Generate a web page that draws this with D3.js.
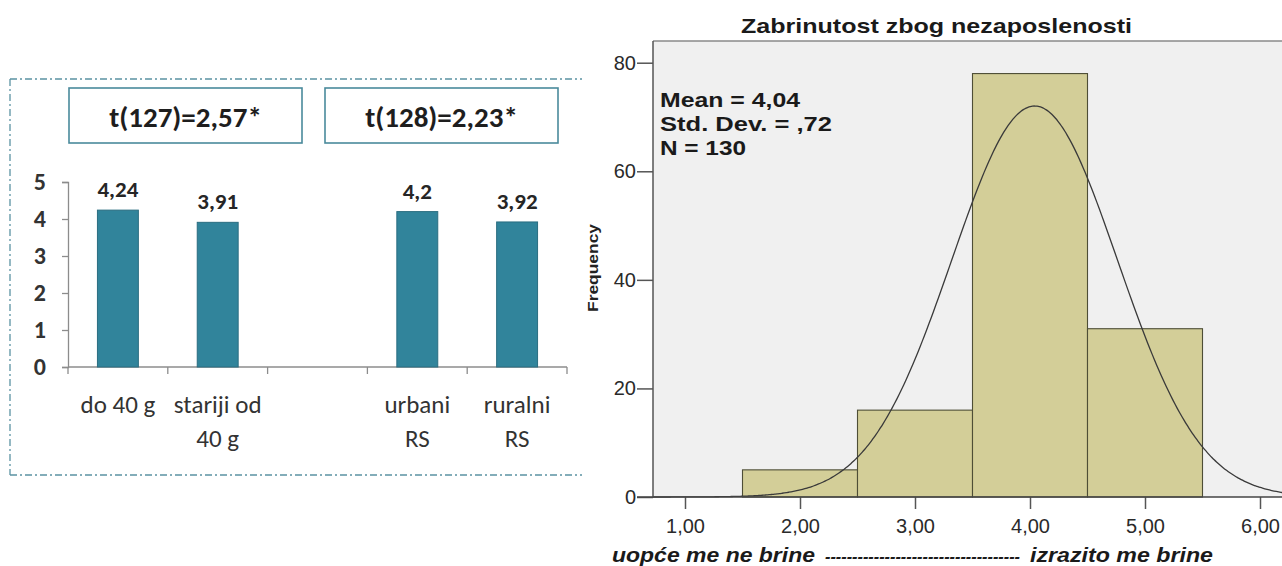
<!DOCTYPE html>
<html>
<head>
<meta charset="utf-8">
<script src="https://cdn.jsdelivr.net/npm/d3@7"></script>
<style>
  html, body { margin: 0; padding: 0; background: #ffffff; overflow: hidden; }
  svg { display: block; }
</style>
</head>
<body>
<svg id="chart" width="1282" height="566"></svg>
<script>
// ---------- Left panel data ----------
const groups = ["do 40 g", "stariji od|40 g", "gap", "urbani|RS", "ruralni|RS"];
const groupMeans = [4.24, 3.91, null, 4.2, 3.92];
const leftTicks = [0, 1, 2, 3, 4, 5];
const tTests = ["t(127)=2,57*", "t(128)=2,23*"];

// ---------- Right panel data ----------
const histTitle = "Zabrinutost zbog nezaposlenosti";
const binStarts = [1.5, 2.5, 3.5, 4.5];
const binFreq = [5, 16, 78, 31];
const binWidth = 1;
const statMean = 4.04, statSD = 0.72, statN = 130;
const statLines = ["Mean = 4,04", "Std. Dev. = ,72", "N = 130"];
const rightYTicks = [0, 20, 40, 60, 80];
const rightXTicks = [1, 2, 3, 4, 5, 6];

const svg = d3.select("#chart");
const leftFont = "Carlito, Calibri, Lato, 'Open Sans', sans-serif";
const rightFont = "'Liberation Sans', Arial, Helvetica, sans-serif";

// ================= LEFT PANEL =================
const L = svg.append("g");
const frameColor = "#5b93a3";
const dash = "7,3,2,3";
L.append("line").attr("x1", 10).attr("x2", 582).attr("y1", 79).attr("y2", 79)
  .attr("stroke", frameColor).attr("stroke-width", 1.3).attr("stroke-dasharray", dash);
L.append("line").attr("x1", 10).attr("x2", 582).attr("y1", 475).attr("y2", 475)
  .attr("stroke", frameColor).attr("stroke-width", 1.3).attr("stroke-dasharray", dash);
L.append("line").attr("x1", 10).attr("x2", 10).attr("y1", 79).attr("y2", 475)
  .attr("stroke", frameColor).attr("stroke-width", 1.3).attr("stroke-dasharray", dash);

// t-test boxes
const boxes = [{x: 69, w: 233}, {x: 325, w: 233}];
tTests.forEach((t, i) => {
  L.append("rect").attr("x", boxes[i].x).attr("y", 88).attr("width", boxes[i].w).attr("height", 55)
    .attr("fill", "#ffffff").attr("stroke", "#4a8a9c").attr("stroke-width", 1.6);
  L.append("text").attr("x", boxes[i].x + boxes[i].w / 2).attr("y", 127)
    .attr("text-anchor", "middle").attr("font-family", leftFont).attr("font-weight", "bold")
    .attr("font-size", 29).attr("fill", "#1e1e1e").text(t);
});

const xb = d3.scaleBand().domain(groups).range([68, 567]).paddingInner(0).paddingOuter(0);
const yl = d3.scaleLinear().domain([0, 5]).range([367, 182]);

// y axis
const yAxisL = L.append("g").attr("transform", "translate(68,0)")
  .call(d3.axisLeft(yl).tickValues(leftTicks).tickSize(6).tickPadding(16).tickFormat(d3.format("d")));
yAxisL.select(".domain").attr("stroke", "#8c8c8c").attr("stroke-width", 1.3);
yAxisL.selectAll(".tick line").attr("stroke", "#8c8c8c").attr("stroke-width", 1.3);
yAxisL.selectAll(".tick text").attr("font-family", leftFont).attr("font-size", 24)
  .attr("fill", "#333333").attr("font-weight", "bold");

// x axis line + tick marks at band boundaries
const xEdges = groups.map(g => xb(g)).concat([xb.range()[1]]);
L.append("line").attr("x1", xb.range()[0]).attr("x2", xb.range()[1]).attr("y1", yl(0)).attr("y2", yl(0))
  .attr("stroke", "#8c8c8c").attr("stroke-width", 1.3);
L.selectAll(".xedge").data(xEdges).enter().append("line")
  .attr("x1", d => d).attr("x2", d => d).attr("y1", yl(0)).attr("y2", yl(0) + 7)
  .attr("stroke", "#8c8c8c").attr("stroke-width", 1.3);

// bars
const barData = groups.map((g, i) => ({g, v: groupMeans[i]})).filter(d => d.v !== null);
const barW = xb.bandwidth() * 0.41;
L.selectAll(".bar").data(barData).enter().append("rect")
  .attr("x", d => xb(d.g) + xb.bandwidth() / 2 - barW / 2)
  .attr("y", d => yl(d.v))
  .attr("width", barW)
  .attr("height", d => yl(0) - yl(d.v))
  .attr("fill", "#31849b").attr("stroke", "#2a6d80").attr("stroke-width", 1);

// value labels
L.selectAll(".val").data(barData).enter().append("text")
  .attr("x", d => xb(d.g) + xb.bandwidth() / 2)
  .attr("y", d => yl(d.v) - 13)
  .attr("text-anchor", "middle").attr("font-family", leftFont).attr("font-weight", "bold")
  .attr("font-size", 23).attr("fill", "#262626")
  .text(d => String(d.v).replace(".", ","));

// category labels
groups.forEach(g => {
  if (g === "gap") return;
  const lines = g.split("|");
  const t = L.append("text").attr("text-anchor", "middle").attr("font-family", leftFont)
    .attr("font-size", 25).attr("fill", "#333333");
  lines.forEach((ln, k) => {
    t.append("tspan").attr("x", xb(g) + xb.bandwidth() / 2).attr("y", 413 + k * 34).text(ln);
  });
});

// ================= RIGHT PANEL =================
const R = svg.append("g");
const xr = d3.scaleLinear().domain([1, 6]).range([685, 1260]);
const yr = d3.scaleLinear().domain([0, 84]).range([497, 41]);
const plotLeft = 653, plotRight = 1290;

// title
R.append("text").attr("x", 741).attr("y", 33)
  .attr("font-family", rightFont).attr("font-weight", "bold").attr("font-size", 21)
  .attr("fill", "#1a1a1a").attr("textLength", 391).attr("lengthAdjust", "spacingAndGlyphs")
  .text(histTitle);

// plot background
R.append("rect").attr("x", plotLeft).attr("y", yr(84)).attr("width", plotRight - plotLeft)
  .attr("height", yr(0) - yr(84)).attr("fill", "#f0f0f0");
R.append("line").attr("x1", plotLeft).attr("x2", plotRight).attr("y1", yr(84)).attr("y2", yr(84))
  .attr("stroke", "#8a8a8a").attr("stroke-width", 1.5);

// histogram bars
R.selectAll(".hbar").data(binStarts.map((s, i) => ({s, f: binFreq[i]}))).enter().append("rect")
  .attr("x", d => xr(d.s)).attr("y", d => yr(d.f))
  .attr("width", d => xr(d.s + binWidth) - xr(d.s))
  .attr("height", d => yr(0) - yr(d.f))
  .attr("fill", "#d3ce98").attr("stroke", "#4e4e36").attr("stroke-width", 1.1);

// normal curve from the stated mean, sd, N
const xDom0 = xr.invert(plotLeft), xDom1 = xr.invert(plotRight);
const curvePts = d3.range(xDom0, xDom1, 0.02).map(x => {
  const z = (x - statMean) / statSD;
  return [x, statN * binWidth * Math.exp(-0.5 * z * z) / (statSD * Math.sqrt(2 * Math.PI))];
});
R.append("path").datum(curvePts)
  .attr("d", d3.line().x(d => xr(d[0])).y(d => yr(d[1])).curve(d3.curveBasis))
  .attr("fill", "none").attr("stroke", "#3a3a3a").attr("stroke-width", 1.3);

// axes
const yAxisR = R.append("g").attr("transform", `translate(${plotLeft},0)`)
  .call(d3.axisLeft(yr).tickValues(rightYTicks).tickSize(16).tickPadding(1).tickFormat(d3.format("d")));
yAxisR.select(".domain").remove();
R.append("line").attr("x1", plotLeft).attr("x2", plotLeft).attr("y1", yr(84)).attr("y2", yr(0))
  .attr("stroke", "#555555").attr("stroke-width", 1.5);
yAxisR.selectAll(".tick line").attr("stroke", "#555555").attr("stroke-width", 1.5);
yAxisR.selectAll(".tick text").attr("font-family", rightFont).attr("font-size", 20).attr("fill", "#2a2a2a");

const xAxisR = R.append("g").attr("transform", `translate(0,${yr(0)})`)
  .call(d3.axisBottom(xr).tickValues(rightXTicks).tickSize(12).tickPadding(10)
    .tickFormat(d => d3.format(".2f")(d).replace(".", ",")));
xAxisR.select(".domain").remove();
R.append("line").attr("x1", plotLeft - 16).attr("x2", plotRight).attr("y1", yr(0)).attr("y2", yr(0))
  .attr("stroke", "#444444").attr("stroke-width", 1.6);
xAxisR.selectAll(".tick line").attr("stroke", "#555555").attr("stroke-width", 1.5);
xAxisR.selectAll(".tick text").attr("font-family", rightFont).attr("font-size", 20).attr("fill", "#2a2a2a");

// stats box text
const statWidths = [140, 172, 86];
statLines.forEach((s, i) => {
  R.append("text").attr("x", 660).attr("y", 107 + i * 24)
    .attr("font-family", rightFont).attr("font-weight", "bold").attr("font-size", 21)
    .attr("fill", "#1a1a1a").attr("textLength", statWidths[i]).attr("lengthAdjust", "spacingAndGlyphs")
    .text(s);
});

// y label
R.append("text").attr("transform", "translate(598,268) rotate(-90)")
  .attr("text-anchor", "middle").attr("font-family", rightFont).attr("font-weight", "bold")
  .attr("font-size", 14).attr("fill", "#222222")
  .attr("textLength", 88).attr("lengthAdjust", "spacingAndGlyphs").text("Frequency");

// x caption (one text, three parts)
const capParts = [
  {t: "uopće me ne brine", x: 612, w: 203, fs: 20},
  {t: "-".repeat(36), x: 825, w: 195, fs: 16},
  {t: "izrazito me brine", x: 1030, w: 183, fs: 20}
];
const cap = R.append("text").attr("y", 562)
  .attr("font-family", rightFont).attr("font-weight", "bold").attr("font-style", "italic")
  .attr("fill", "#1a1a1a");
capParts.forEach(p => {
  cap.append("tspan").attr("x", p.x).attr("font-size", p.fs).attr("textLength", p.w)
    .attr("lengthAdjust", "spacingAndGlyphs").text(p.t);
});
</script>
</body>
</html>
